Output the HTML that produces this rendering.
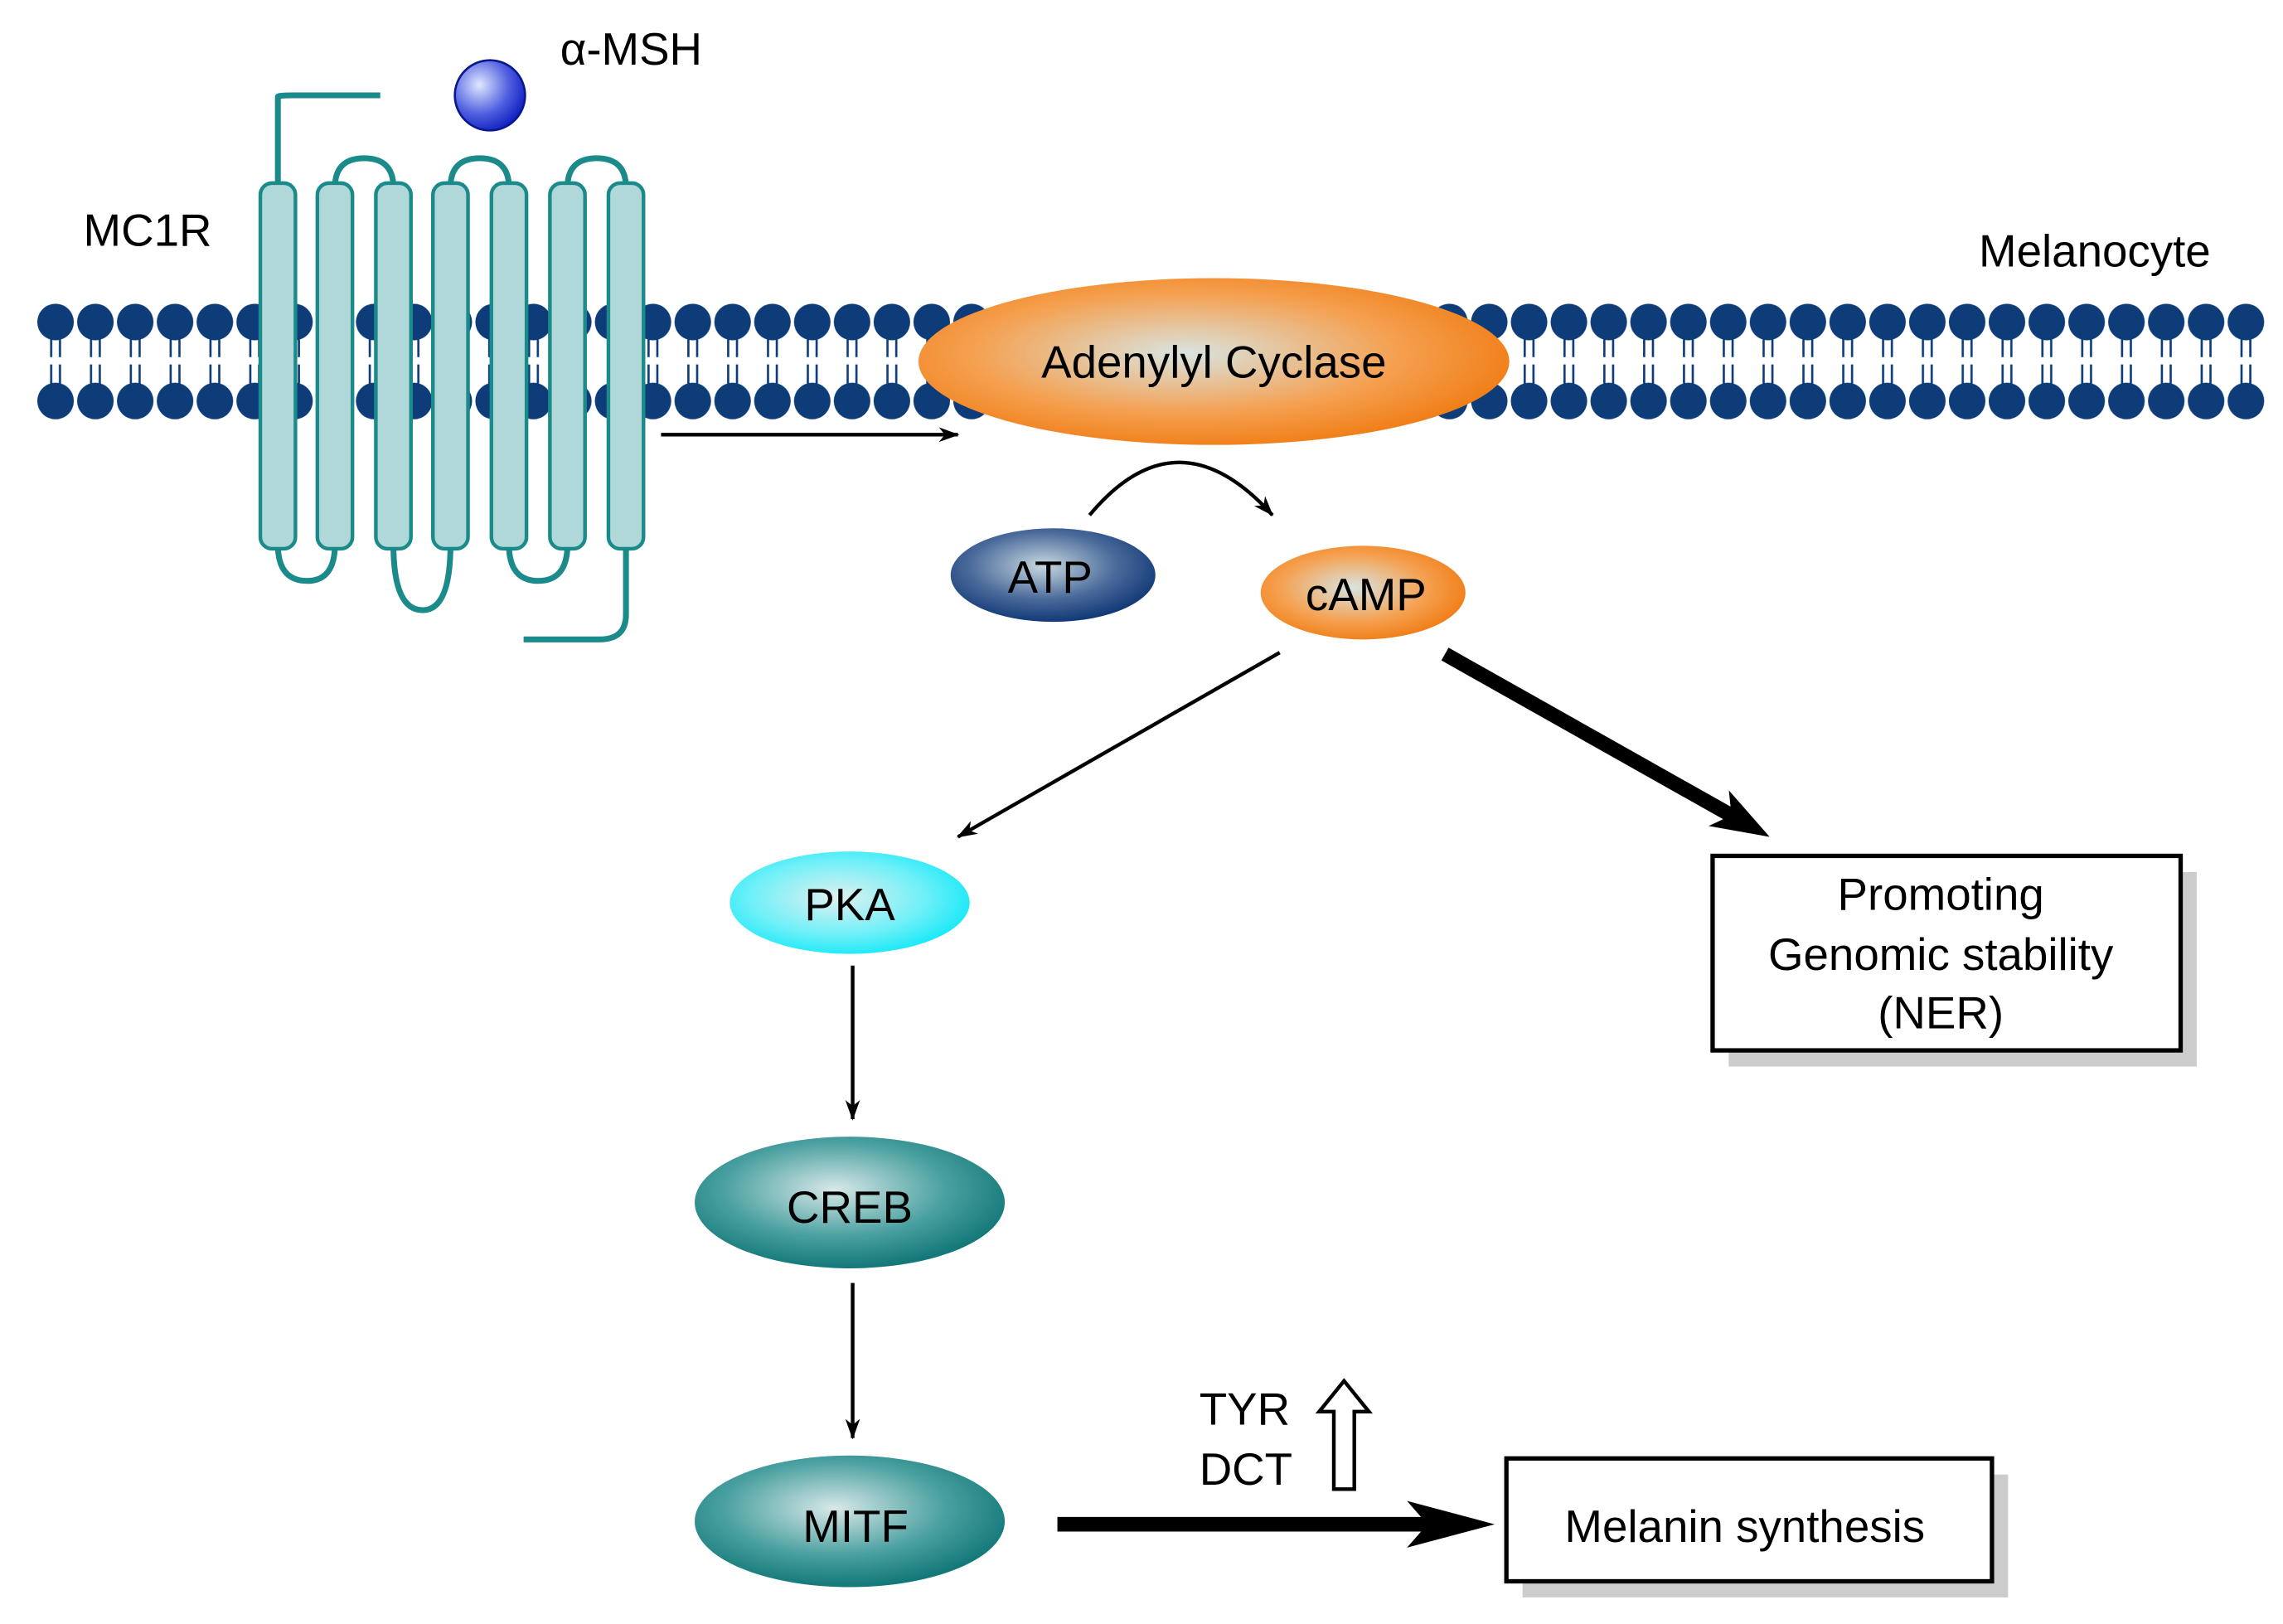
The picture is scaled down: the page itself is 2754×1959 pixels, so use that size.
<!DOCTYPE html>
<html><head><meta charset="utf-8"><style>html,body{margin:0;padding:0;background:#fff}svg{display:block}</style></head><body>
<svg width="2754" height="1959" viewBox="0 0 1561 1110" xmlns="http://www.w3.org/2000/svg" font-family="Liberation Sans, sans-serif">
<defs>
<radialGradient id="org" cx="0.45" cy="0.45" r="0.6"><stop offset="0" stop-color="#d8e4e0"/><stop offset="0.6" stop-color="#f5a050"/><stop offset="1" stop-color="#f07a10"/></radialGradient>
<radialGradient id="blu" cx="0.45" cy="0.4" r="0.6"><stop offset="0" stop-color="#c8d8e0"/><stop offset="0.6" stop-color="#4a6a9a"/><stop offset="1" stop-color="#123a78"/></radialGradient>
<radialGradient id="cy" cx="0.45" cy="0.45" r="0.6"><stop offset="0" stop-color="#e0f0f0"/><stop offset="0.6" stop-color="#70f0f8"/><stop offset="1" stop-color="#10e8f8"/></radialGradient>
<radialGradient id="tl" cx="0.45" cy="0.4" r="0.6"><stop offset="0" stop-color="#d8e8e8"/><stop offset="0.6" stop-color="#4aa0a0"/><stop offset="1" stop-color="#137878"/></radialGradient>
<radialGradient id="ball" cx="0.35" cy="0.35" r="0.7"><stop offset="0" stop-color="#e0e8ff"/><stop offset="0.6" stop-color="#5060e0"/><stop offset="1" stop-color="#1020c0"/></radialGradient>
<marker id="ah" markerWidth="14" markerHeight="10" refX="13" refY="5" orient="auto" markerUnits="userSpaceOnUse" viewBox="0 0 14 10"><path d="M0,0 L14,5 L0,10 L4,5z" fill="#000"/></marker>
<pattern id="lip" patternUnits="userSpaceOnUse" x="24.4" y="200" width="27.23" height="100">
<line x1="10.6" y1="30" x2="10.6" y2="44" stroke="#0d3c78" stroke-width="1.5"/><line x1="16.6" y1="30" x2="16.6" y2="44" stroke="#0d3c78" stroke-width="1.5"/>
<line x1="10.6" y1="49" x2="10.6" y2="63" stroke="#0d3c78" stroke-width="1.5"/><line x1="16.6" y1="49" x2="16.6" y2="63" stroke="#0d3c78" stroke-width="1.5"/>
<circle cx="13.6" cy="20" r="12.5" fill="#0d3c78"/><circle cx="13.6" cy="74" r="12.5" fill="#0d3c78"/>
</pattern>
</defs>
<rect x="24.4" y="200" width="1524.5" height="90" fill="url(#lip)"/>
<g fill="none" stroke="#1a8a8a" stroke-width="4">
<path d="M190,128 V66 Q190,65 200,65 H260"/>
<path d="M229,128 Q229,108 249,108 Q269,108 269,128"/>
<path d="M308,128 Q308,108 328,108 Q348,108 348,128"/>
<path d="M388,128 Q388,108 408,108 Q428,108 428,128"/>
<path d="M190,372 Q190,397 210,397 Q229,397 229,372"/>
<path d="M269,372 Q269,417 289,417 Q308,417 308,372"/>
<path d="M348,372 Q348,397 368,397 Q388,397 388,372"/>
<path d="M428,372 V420 Q428,437 410,437 H358"/>
</g>
<g fill="#b0d8d8" stroke="#1a8a8a" stroke-width="2.5">
<rect x="178" y="125" width="24" height="250" rx="8"/><rect x="217" y="125" width="24" height="250" rx="8"/><rect x="257" y="125" width="24" height="250" rx="8"/><rect x="296" y="125" width="24" height="250" rx="8"/><rect x="336" y="125" width="24" height="250" rx="8"/><rect x="376" y="125" width="24" height="250" rx="8"/><rect x="416" y="125" width="24" height="250" rx="8"/>
</g>
<circle cx="335" cy="65" r="24" fill="url(#ball)" stroke="#0a1890" stroke-width="1.5"/>
<text x="383" y="44" font-size="31">α-MSH</text>
<text x="57" y="168" font-size="31">MC1R</text>
<text x="1353" y="182" font-size="31">Melanocyte</text>
<ellipse cx="830" cy="247" rx="202" ry="57" fill="url(#org)"/>
<text x="830" y="258" font-size="31" text-anchor="middle">Adenylyl Cyclase</text>
<line x1="452" y1="297" x2="655" y2="297" stroke="#000" stroke-width="2.5" marker-end="url(#ah)"/>
<ellipse cx="720" cy="393" rx="70" ry="32" fill="url(#blu)"/>
<text x="718" y="405" font-size="31" text-anchor="middle">ATP</text>
<ellipse cx="932" cy="405" rx="70" ry="32" fill="url(#org)"/>
<text x="934" y="417" font-size="31" text-anchor="middle">cAMP</text>
<path d="M745,352 Q805,280 870,352" fill="none" stroke="#000" stroke-width="2.5" marker-end="url(#ah)"/>
<line x1="875" y1="446" x2="655" y2="572" stroke="#000" stroke-width="2.5" marker-end="url(#ah)"/>
<line x1="988" y1="447" x2="1185" y2="558" stroke="#000" stroke-width="10"/>
<polygon points="1210,572 1168.3,564.6 1183.9,557.3 1182.1,540.2" fill="#000"/>
<ellipse cx="581" cy="617" rx="82" ry="35" fill="url(#cy)"/>
<text x="581" y="629" font-size="31" text-anchor="middle">PKA</text>
<line x1="583" y1="660" x2="583" y2="765" stroke="#000" stroke-width="2.5" marker-end="url(#ah)"/>
<ellipse cx="581" cy="822" rx="106" ry="45" fill="url(#tl)"/>
<text x="581" y="836" font-size="31" text-anchor="middle">CREB</text>
<line x1="583" y1="877" x2="583" y2="983" stroke="#000" stroke-width="2.5" marker-end="url(#ah)"/>
<ellipse cx="581" cy="1040" rx="106" ry="45" fill="url(#tl)"/>
<text x="585" y="1054" font-size="31" text-anchor="middle">MITF</text>
<line x1="723" y1="1042" x2="990" y2="1042" stroke="#000" stroke-width="10"/>
<polygon points="1022,1042 962,1026 976,1042 962,1058" fill="#000"/>
<text x="820" y="974" font-size="31">TYR</text>
<text x="820" y="1015" font-size="31">DCT</text>
<path d="M912,1018 V965 H902 L919,944 L936,965 H926 V1018 Z" fill="#fff" stroke="#000" stroke-width="2.5"/>
<rect x="1182" y="596" width="320" height="133" fill="#ccc"/>
<rect x="1171" y="585" width="320" height="133" fill="#fff" stroke="#000" stroke-width="3"/>
<text x="1327" y="622" font-size="31" text-anchor="middle">Promoting</text>
<text x="1327" y="663" font-size="31" text-anchor="middle">Genomic stability</text>
<text x="1327" y="703" font-size="31" text-anchor="middle">(NER)</text>
<rect x="1041" y="1008" width="332" height="84" fill="#ccc"/>
<rect x="1030" y="997" width="332" height="84" fill="#fff" stroke="#000" stroke-width="3"/>
<text x="1193" y="1054" font-size="31" text-anchor="middle">Melanin synthesis</text>
</svg>
</body></html>
